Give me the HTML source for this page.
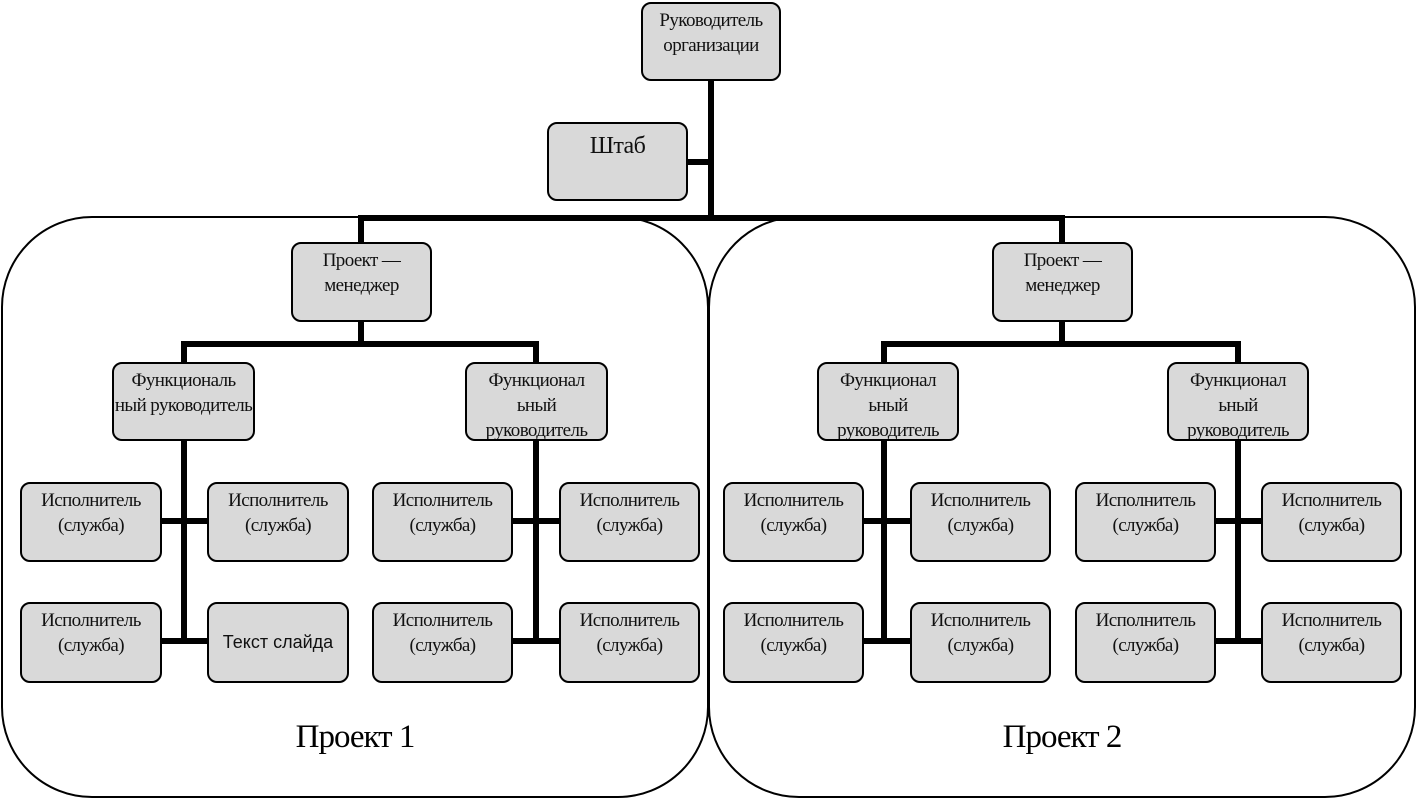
<!DOCTYPE html>
<html><head><meta charset="utf-8"><style>
body{margin:0;width:1417px;height:799px;background:#fff;position:relative;overflow:hidden;font-family:"Liberation Serif","Noto Serif CJK SC",serif}
.b{position:absolute;box-sizing:border-box;background:#d9d9d9;border:2px solid #000;border-radius:10px;text-align:center;font-size:19px;line-height:25px;letter-spacing:-0.6px;overflow:hidden;padding-top:4px;color:#111}
.l{position:absolute;background:#000}
.t{position:absolute;font-size:33px;letter-spacing:-1px;width:300px;text-align:center}
</style></head><body>
<svg width="1417" height="799" style="position:absolute;left:0;top:0">
<rect x="2" y="217" width="706" height="580" rx="90" ry="90" fill="none" stroke="#000" stroke-width="2"/>
<rect x="709" y="217" width="706" height="580" rx="90" ry="90" fill="none" stroke="#000" stroke-width="2"/>
</svg>
<!-- connectors -->
<div class="l" style="left:708px;top:80px;width:6px;height:141px"></div>
<div class="l" style="left:687px;top:159px;width:24px;height:6px"></div>
<div class="l" style="left:358px;top:215px;width:707px;height:6px"></div>
<div class="l" style="left:358px;top:215px;width:6px;height:28px"></div>
<div class="l" style="left:1059px;top:215px;width:6px;height:28px"></div>

<div class="l" style="left:358px;top:320px;width:6px;height:24px"></div>
<div class="l" style="left:181px;top:341px;width:358px;height:6px"></div>
<div class="l" style="left:181px;top:341px;width:6px;height:22px"></div>
<div class="l" style="left:533px;top:341px;width:6px;height:22px"></div>
<div class="l" style="left:1059px;top:320px;width:6px;height:24px"></div>
<div class="l" style="left:881px;top:341px;width:360px;height:6px"></div>
<div class="l" style="left:881px;top:341px;width:6px;height:22px"></div>
<div class="l" style="left:1235px;top:341px;width:6px;height:22px"></div>

<div class="l" style="left:181px;top:440px;width:6px;height:204px"></div>
<div class="l" style="left:533px;top:440px;width:6px;height:204px"></div>
<div class="l" style="left:881px;top:440px;width:6px;height:204px"></div>
<div class="l" style="left:1235px;top:440px;width:6px;height:204px"></div>

<div class="l" style="left:161px;top:518px;width:46px;height:6px"></div>
<div class="l" style="left:161px;top:638px;width:46px;height:6px"></div>
<div class="l" style="left:512px;top:518px;width:47px;height:6px"></div>
<div class="l" style="left:512px;top:638px;width:47px;height:6px"></div>
<div class="l" style="left:863px;top:518px;width:47px;height:6px"></div>
<div class="l" style="left:863px;top:638px;width:47px;height:6px"></div>
<div class="l" style="left:1215px;top:518px;width:46px;height:6px"></div>
<div class="l" style="left:1215px;top:638px;width:46px;height:6px"></div>

<div class="b" style="left:641px;top:2px;width:140px;height:79px">Руководитель организации</div>
<div class="b" style="left:547px;top:122px;width:141px;height:79px;font-size:24px;padding-top:10px">Штаб</div>
<div class="b" style="left:291px;top:242px;width:141px;height:80px">Проект — менеджер</div>
<div class="b" style="left:992px;top:242px;width:141px;height:80px">Проект — менеджер</div>

<div class="b" style="left:112px;top:362px;width:143px;height:79px">Функциональ ный руководитель</div>
<div class="b" style="left:465px;top:362px;width:143px;height:79px">Функционал ьный руководитель</div>
<div class="b" style="left:817px;top:362px;width:142px;height:79px">Функционал ьный руководитель</div>
<div class="b" style="left:1167px;top:362px;width:142px;height:79px">Функционал ьный руководитель</div>

<div class="b" style="left:20px;top:482px;width:142px;height:80px">Исполнитель (служба)</div>
<div class="b" style="left:207px;top:482px;width:142px;height:80px">Исполнитель (служба)</div>
<div class="b" style="left:372px;top:482px;width:141px;height:80px">Исполнитель (служба)</div>
<div class="b" style="left:559px;top:482px;width:141px;height:80px">Исполнитель (служба)</div>
<div class="b" style="left:20px;top:602px;width:142px;height:81px">Исполнитель (служба)</div>
<div class="b" style="left:207px;top:602px;width:142px;height:81px;font-family:'Liberation Sans',sans-serif;font-size:18px;letter-spacing:0;padding-top:26px">Текст слайда</div>
<div class="b" style="left:372px;top:602px;width:141px;height:81px">Исполнитель (служба)</div>
<div class="b" style="left:559px;top:602px;width:141px;height:81px">Исполнитель (служба)</div>

<div class="b" style="left:723px;top:482px;width:141px;height:80px">Исполнитель (служба)</div>
<div class="b" style="left:910px;top:482px;width:141px;height:80px">Исполнитель (служба)</div>
<div class="b" style="left:1075px;top:482px;width:141px;height:80px">Исполнитель (служба)</div>
<div class="b" style="left:1261px;top:482px;width:141px;height:80px">Исполнитель (служба)</div>
<div class="b" style="left:723px;top:602px;width:141px;height:81px">Исполнитель (служба)</div>
<div class="b" style="left:910px;top:602px;width:141px;height:81px">Исполнитель (служба)</div>
<div class="b" style="left:1075px;top:602px;width:141px;height:81px">Исполнитель (служба)</div>
<div class="b" style="left:1261px;top:602px;width:141px;height:81px">Исполнитель (служба)</div>

<div class="t" style="left:205px;top:719px">Проект 1</div>
<div class="t" style="left:912px;top:719px">Проект 2</div>
</body></html>
